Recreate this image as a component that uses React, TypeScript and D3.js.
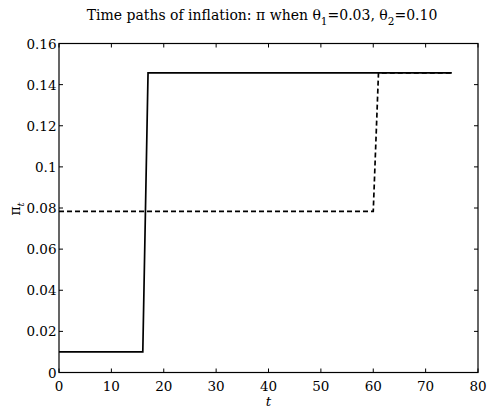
import React from "react";
import * as d3 from "d3";

// Solid path (theta1 case) and dashed path (theta2 case): breakpoints
const solidT = [0, 16, 17, 75];
const solidPi = [0.01, 0.01, 0.1457, 0.1457];
const dashedT = [0, 60, 61, 75];
const dashedPi = [0.0784, 0.0784, 0.1457, 0.1457];

const xTicks = [0, 10, 20, 30, 40, 50, 60, 70, 80];
const yTicks = [0, 0.02, 0.04, 0.06, 0.08, 0.1, 0.12, 0.14, 0.16];

const W = 487;
const H = 410;
const M = { left: 59, right: 9, top: 43.5, bottom: 37.5 };
const FONT = "'DejaVu Serif', serif";
const FS = 13.5;

export default function App() {
  const x = d3.scaleLinear().domain([0, 80]).range([M.left, W - M.right]);
  const y = d3.scaleLinear().domain([0, 0.16]).range([H - M.bottom, M.top]);
  const line = d3
    .line<[number, number]>()
    .x((d) => x(d[0]))
    .y((d) => y(d[1]));
  const solid = solidT.map((t, i) => [t, solidPi[i]] as [number, number]);
  const dashed = dashedT.map((t, i) => [t, dashedPi[i]] as [number, number]);
  const x0 = x(0), x1 = x(80), y0 = y(0), y1 = y(0.16);
  const tl = 4;
  const fmtY = (v: number) => (v === 0 ? "0" : String(+v.toFixed(2)));

  return (
    <svg
      width={W}
      height={H}
      style={{ position: "absolute", left: 0, top: 0, background: "#fff" }}
      fontFamily={FONT}
    >
      <rect x={0} y={0} width={W} height={H} fill="#fff" />
      {/* data lines */}
      <path d={line(dashed) || ""} fill="none" stroke="#000" strokeWidth={1.7} strokeDasharray="5,3" />
      <path d={line(solid) || ""} fill="none" stroke="#000" strokeWidth={1.7} />
      {/* frame */}
      <rect x={x0} y={y1} width={x1 - x0} height={y0 - y1} fill="none" stroke="#000" strokeWidth={1.2} />
      {/* x ticks */}
      {xTicks.map((t) => (
        <g key={"x" + t}>
          <line x1={x(t)} x2={x(t)} y1={y0} y2={y0 - tl} stroke="#000" strokeWidth={1} />
          <line x1={x(t)} x2={x(t)} y1={y1} y2={y1 + tl} stroke="#000" strokeWidth={1} />
          <text x={x(t)} y={y0 + 18.5} textAnchor="middle" fontSize={FS} fill="#000">
            {t}
          </text>
        </g>
      ))}
      {/* y ticks */}
      {yTicks.map((v) => (
        <g key={"y" + v}>
          <line x1={x0} x2={x0 + tl} y1={y(v)} y2={y(v)} stroke="#000" strokeWidth={1} />
          <line x1={x1} x2={x1 - tl} y1={y(v)} y2={y(v)} stroke="#000" strokeWidth={1} />
          <text x={x0 - 2.5} y={y(v) + 5} textAnchor="end" fontSize={FS} fill="#000">
            {fmtY(v)}
          </text>
        </g>
      ))}
      {/* x label */}
      <text x={x(40)} y={406} textAnchor="middle" fontSize={FS} fontStyle="italic" fill="#000">
        t
      </text>
      {/* y label */}
      <text transform={`translate(20,${y(0.08) + 1}) rotate(-90)`} textAnchor="middle" fontSize={14} fill="#000">
        π
        <tspan fontSize={10} dy={4} fontStyle="italic">t</tspan>
      </text>
      {/* title */}
      <text x={262} y={19.5} textAnchor="middle" fontSize={14} fill="#000">
        Time paths of inflation: π  when θ
        <tspan fontSize={10.5} dy={5}>1</tspan>
        <tspan dy={-5}>=0.03, θ</tspan>
        <tspan fontSize={10.5} dy={5}>2</tspan>
        <tspan dy={-5}>=0.10</tspan>
      </text>
    </svg>
  );
}
